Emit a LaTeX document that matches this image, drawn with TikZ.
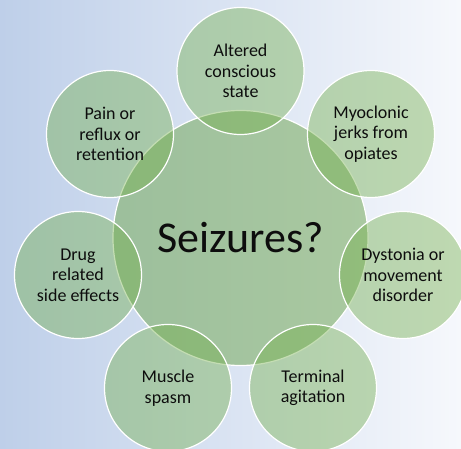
\documentclass[tikz,border=0pt]{standalone}
\usepackage{fontspec}
\setmainfont{Carlito}
\definecolor{bgL}{RGB}{190,207,233}
\definecolor{bgR}{RGB}{246,248,252}
\definecolor{grn}{RGB}{112,173,71}
\definecolor{hubg}{RGB}{118,170,90}
\definecolor{txt}{RGB}{13,13,13}
\begin{document}
\begin{tikzpicture}[x=1pt,y=-1pt,
  hub/.style={circle,minimum size=255pt,inner sep=0pt,draw=white,line width=1.2pt,
    fill=hubg,fill opacity=0.55,text opacity=1,text=txt,font=\fontsize{44}{50}\selectfont},
  sat/.style={circle,minimum size=127pt,inner sep=0pt,draw=white,line width=1.2pt,
    fill=grn,fill opacity=0.41,text opacity=1,text=txt,align=center,
    font=\fontsize{18}{20.5}\selectfont}]
\useasboundingbox (0,0) rectangle (461,449);
\shade[left color=bgL,right color=bgR] (0,0) rectangle (461,449);
\node[hub] (c) at (240.5,238) {Seizures?};
\node[sat] (s1) at (240.5,71) {Altered\\conscious\\state};
\node[sat] (s2) at (371,134) {Myoclonic\\jerks from\\opiates};
\node[sat] (s3) at (403,275) {Dystonia or\\movement\\disorder};
\node[sat] (s4) at (313,388) {Terminal\\agitation};
\node[sat] (s5) at (168,388) {Muscle\\spasm};
\node[sat] (s6) at (78,275) {Drug\\related\\side effects};
\node[sat] (s7) at (110,134) {Pain or\\reflux or\\retention};
\end{tikzpicture}
\end{document}
